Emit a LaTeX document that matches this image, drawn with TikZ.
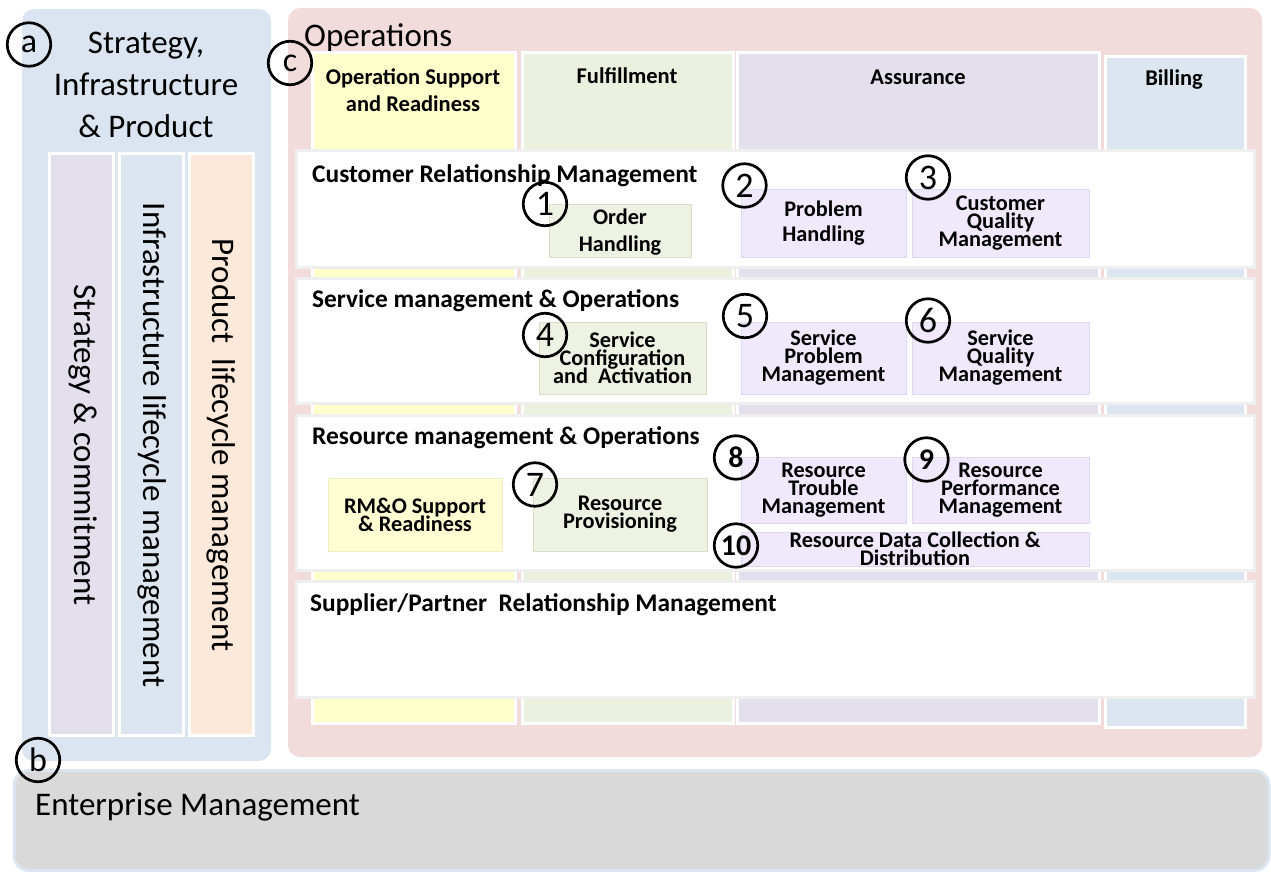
\documentclass[tikz,border=0pt]{standalone}
\usepackage{fontspec}
\setmainfont{Carlito}
\definecolor{leftbg}{HTML}{DBE5F1}
\definecolor{opbg}{HTML}{F2DCDB}
\definecolor{ylw}{HTML}{FFFFCC}
\definecolor{grn}{HTML}{EBF1DE}
\definecolor{prp}{HTML}{E4DFEC}
\definecolor{blu}{HTML}{DCE6F1}
\definecolor{pch}{HTML}{FDE9D9}
\definecolor{entbg}{HTML}{D9D9D9}
\definecolor{rowedge}{HTML}{EFEFEF}
\definecolor{igrn}{HTML}{EDF2E3}
\definecolor{igrnd}{HTML}{D6E0C6}
\definecolor{iprp}{HTML}{F0E8FB}
\definecolor{iprpd}{HTML}{E2D6F2}
\definecolor{iylw}{HTML}{FEFED2}
\definecolor{iylwd}{HTML}{EEEEC4}
\newcommand{\tightlines}{\lineskiplimit=-100pt\relax\lineskip=0pt\relax}
\begin{document}
\begin{tikzpicture}[x=1pt,y=-1pt,
  sz/.style 2 args={minimum width=#1pt, minimum height=#2pt},
  panel/.style={rounded corners=12pt, inner sep=0pt, outer sep=0pt},
  colbox/.style={draw=white, line width=3pt, inner sep=0pt},
  rowbox/.style={fill=white, draw=rowedge, line width=3pt, inner sep=0pt},
  bigtxt/.style={font=\fontsize{33}{42}\selectfont, inner sep=0pt},
  vtxt/.style={font=\fontsize{33}{40}\selectfont, inner sep=0pt, rotate=-90},
  colhead/.style={font=\bfseries\fontsize{22.5}{27}\selectfont, align=center, inner sep=0pt},
  rowtitle/.style={font=\bfseries\fontsize{25.4}{30}\selectfont, inner sep=0pt, anchor=west},
  inbox/.style={inner sep=0pt, line width=0.8pt, align=center,
    font=\bfseries\fontsize{22.3}{18}\selectfont\tightlines},
  gbox/.style={inbox, fill=igrn, draw=igrnd},
  pbox/.style={inbox, fill=iprp, draw=iprpd},
  ybox/.style={inbox, fill=iylw, draw=iylwd},
  numc/.style={circle, draw=black, line width=2.7pt, minimum size=43.5pt, inner sep=0pt,
    font=\fontsize{36}{36}\selectfont},
  numcb/.style={numc, font=\bfseries\fontsize{30}{30}\selectfont},
  letc/.style={numc, font=\fontsize{34}{34}\selectfont}
]
\useasboundingbox (0,0) rectangle (1271,872);

% ---- Strategy, Infrastructure & Product ----
\node[panel, fill=leftbg, sz={249}{752}] (sip) at (146.5,385) {};
\node[bigtxt, align=center] (siptitle) at (146,85) {Strategy,\\Infrastructure\\\& Product};
\node[colbox, fill=prp, sz={64}{582}] (scbox) at (81,444) {};
\node[colbox, fill=blu, sz={64}{582}] (ilbox) at (151,444) {};
\node[colbox, fill=pch, sz={64}{582}] (plbox) at (221,444) {};
\node[vtxt] (sctxt) at (83,445) {Strategy \& commitment};
\node[vtxt] (iltxt) at (152,445) {Infrastructure lifecycle management};
\node[vtxt] (pltxt) at (221,445) {Product\ \ lifecycle management};

% ---- Operations ----
\node[panel, fill=opbg, sz={974}{749}] (ops) at (775,382.5) {};
\node[bigtxt, anchor=base west] (opstitle) at (304,47) {Operations};

\node[colbox, fill=ylw, sz={203}{670}] (osr) at (413.5,388) {};
\node[colbox, fill=grn, sz={211}{670}] (ful) at (627.5,388) {};
\node[colbox, fill=prp, sz={362}{670}] (asr) at (918,388) {};
\node[colbox, fill=blu, sz={140}{670}] (bil) at (1175,392) {};

\node[colhead] (osrh) at (413,90) {Operation Support\\and Readiness};
\node[colhead] (fulh) at (627,76) {Fulfillment};
\node[colhead] (asrh) at (918,77) {Assurance};
\node[colhead] (bilh) at (1174,80) {Billing};

\node[rowbox, sz={958}{117}] (crm) at (775,208.5) {};
\node[rowbox, sz={958}{125}] (smo) at (775,340.5) {};
\node[rowbox, sz={958}{155}] (rmo) at (775,492.5) {};
\node[rowbox, sz={958}{116}] (spr) at (775,639) {};

\node[rowtitle] (crmt) at (312,176) {Customer Relationship Management};
\node[rowtitle] (smot) at (312,301) {Service management \& Operations};
\node[rowtitle] (rmot) at (312,438) {Resource management \& Operations};
\node[rowtitle] (sprt) at (310,605) {Supplier/Partner\ \ Relationship Management};

% inner boxes
\node[gbox, sz={142}{53}, font=\bfseries\fontsize{22.3}{27}\selectfont, text depth=0pt] (oh) at (620,230.5) {Order\\Handling};
\node[pbox, sz={165}{68}, font=\bfseries\fontsize{22.3}{25}\selectfont] (ph) at (823.5,223) {Problem\\Handling};
\node[pbox, sz={177}{68}] (cqm) at (1000.5,223) {Customer\\Quality\\Management};
\node[gbox, sz={167}{72}] (sca) at (622.5,358) {Service\\Configuration\\and\ \ Activation};
\node[pbox, sz={165}{72}] (spm) at (823.5,358) {Service\\Problem\\Management};
\node[pbox, sz={177}{72}] (sqm) at (1000.5,358) {Service\\Quality\\Management};
\node[ybox, sz={174}{73}] (rmsr) at (415,514.5) {RM\&O Support\\\& Readiness};
\node[gbox, sz={174}{73}] (rp) at (620,514.5) {Resource\\Provisioning};
\node[pbox, sz={165}{66}] (rtm) at (823.5,490) {Resource\\Trouble\\Management};
\node[pbox, sz={177}{66}] (rpm) at (1000.5,490) {Resource\\Performance\\Management};
\node[pbox, sz={348}{34}] (rdc) at (915,549) {Resource Data Collection \&\\Distribution};

% number circles
\node[numc] (n1) at (545,204) {1};
\node[numc] (n2) at (744.5,185.5) {2};
\node[numc] (n3) at (928,177.5) {3};
\node[numc] (n4) at (545,335) {4};
\node[numc] (n5) at (745,316) {5};
\node[numc] (n6) at (928,320.5) {6};
\node[numc] (n7) at (535,484.5) {7};
\node[numcb] (n8) at (736,457.5) {8};
\node[numcb] (n9) at (926.5,459.5) {9};
\node[numcb] (n10) at (736,545.5) {10};

% ---- Enterprise Management ----
\node[panel, rounded corners=15pt, fill=entbg, draw=blu, line width=3pt, sz={1255}{100}] (ent) at (641.5,820.5) {};
\node[bigtxt, anchor=base west] (entt) at (35,815) {Enterprise Management};

% letter circles
\node[letc] (ca) at (29,44.5) {a};
\node[letc] (cb) at (38,760) {b};
\node[letc] (cc) at (290,63) {c};
\end{tikzpicture}
\end{document}
